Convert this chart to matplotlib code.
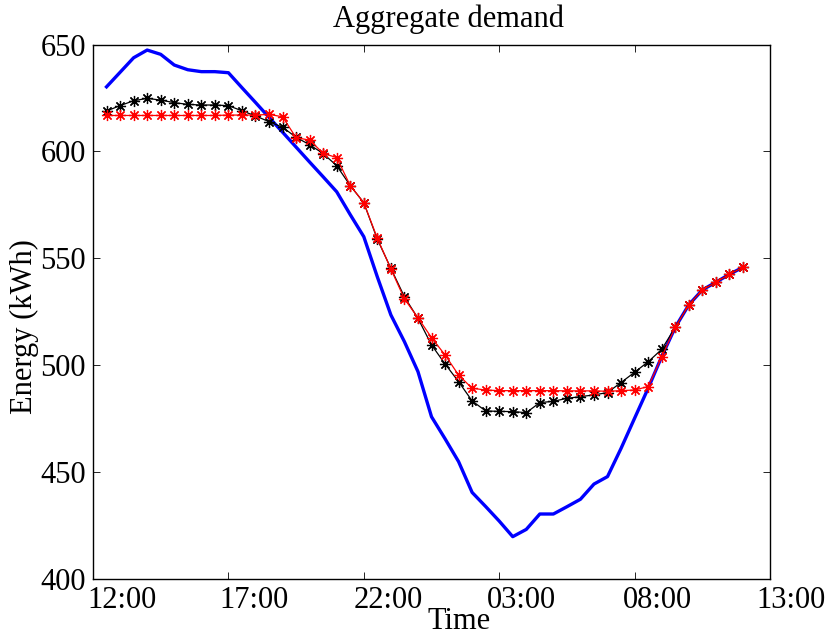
import matplotlib
matplotlib.use('Agg')
import matplotlib.pyplot as plt
import matplotlib.transforms as mtransforms
import numpy as np

plt.rcParams['font.family'] = ['Liberation Serif', 'DejaVu Serif']

# half-hourly samples, hours after 12:00
hours = np.arange(1, 49) * 0.5

# blue thick curve (no markers)
blue_demand = [630.2, 637.0, 643.8, 647.4, 645.4, 640.4, 638.2, 637.3, 637.3, 636.8,
               629.8, 622.9, 615.9, 609.0, 602.0, 595.0, 588.1, 581.1, 570.4, 560.1,
               541.3, 523.5, 511.0, 497.0, 475.9, 465.6, 454.9, 440.5, 433.9, 427.1,
               419.8, 423.2, 430.4, 430.4, 433.8, 437.3, 444.4, 447.9, 461.1, 475.2,
               489.2, 504.0, 517.7, 528.2, 535.2, 538.8, 542.5, 545.8]

# black curve with asterisks
black_demand = [618.9, 621.4, 623.7, 624.8, 624.0, 622.8, 622.0, 621.7, 621.7, 621.4,
                619.0, 616.6, 613.9, 611.3, 606.6, 603.1, 599.0, 593.3, 584.0, 576.0,
                558.9, 545.3, 532.0, 521.9, 509.5, 500.6, 492.3, 483.3, 478.6, 478.4,
                478.3, 477.8, 482.5, 483.1, 484.5, 485.3, 486.1, 487.2, 491.9, 496.7,
                501.6, 507.4, 517.7, 528.2, 535.2, 538.8, 542.5, 545.8]

# red curve with asterisks
red_demand = [616.8, 616.8, 616.8, 616.8, 616.8, 616.8, 616.8, 616.8, 616.8, 617.0,
              617.0, 617.0, 617.3, 616.2, 606.4, 605.3, 599.1, 597.1, 584.0, 576.0,
              559.4, 545.0, 531.0, 522.2, 512.9, 504.8, 495.4, 489.2, 488.4, 488.1,
              488.1, 488.1, 488.1, 488.1, 488.0, 488.0, 488.0, 487.8, 488.1, 488.4,
              490.0, 503.8, 517.7, 528.2, 535.2, 538.8, 542.5, 545.8]

xtick_pos = [0, 5, 10, 15, 20, 25]
xtick_labels = ['12:00', '17:00', '22:00', '03:00', '08:00', '13:00']
ytick_pos = [400, 450, 500, 550, 600, 650]

fig = plt.figure(figsize=(8.35, 6.38), dpi=100)
ax = fig.add_axes([93/835, 59/638, 677/835, 534.5/638])

asterisk = (8, 2, 0)
ax.plot(hours, blue_demand, color='#0000ff', linewidth=2.4)
ax.plot(hours, black_demand, color='black', linewidth=0.9,
        marker=asterisk, markersize=8, markeredgewidth=0.9)
ax.plot(hours, red_demand, color='#ff0000', linewidth=0.9,
        marker=asterisk, markersize=8, markeredgewidth=0.9)

ax.set_xlim(0, 25)
ax.set_ylim(400, 650)
ax.set_xticks(xtick_pos)
ax.set_xticklabels(xtick_labels)
ax.set_yticks(ytick_pos)
ax.tick_params(direction='in', length=5, width=0.6, top=True, right=True,
               labelsize=22, pad=5)
for sp in ax.spines.values():
    sp.set_linewidth(1.0)

# tick labels sit a bit right of their ticks, as in the original export
shifts = [29, 26, 24, 22.5, 22.5, 21]
for lbl, dx in zip(ax.get_xticklabels(), shifts):
    off = mtransforms.ScaledTranslation(dx/100, 0, fig.dpi_scale_trans)
    lbl.set_transform(lbl.get_transform() + off)

ax.text(0.525, 1.0327, 'Aggregate demand', transform=ax.transAxes,
        ha='center', va='baseline', fontsize=22)
ax.text(0.540, -0.0935, 'Time', transform=ax.transAxes,
        ha='center', va='baseline', fontsize=22)
ax.text(-0.101, 0.4715, 'Energy (kWh)', transform=ax.transAxes,
        ha='center', va='center', rotation=90, fontsize=22)

fig.savefig('out.png', dpi=100)
